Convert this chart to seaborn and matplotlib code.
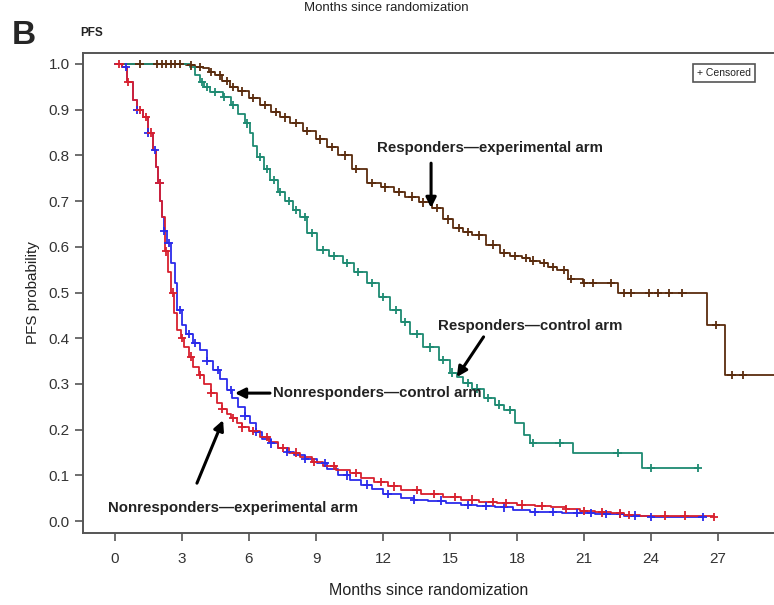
#!/usr/bin/env python
# PFS Kaplan-Meier curves, responders / nonresponders by arm (panel B)

import numpy as np
import pandas as pd
import matplotlib
matplotlib.use('Agg')
import matplotlib.pyplot as plt
import seaborn as sns

sns.set_theme(style='ticks')
plt.rcParams['font.family'] = ['Liberation Sans', 'DejaVu Sans']

# Data (months, survival probability at each step)
resp_exp_t = [0, 3.2, 3.6, 3.94, 4.2, 4.5, 4.8, 5.15, 5.5, 6.0, 6.5, 7.0, 7.4, 7.84, 8.4, 9.0,
              9.5, 10.0, 10.6, 11.29, 11.9, 12.5, 13.0, 13.6, 14.2, 14.7, 15.14, 15.6, 16.0,
              16.6, 17.24, 17.7, 18.2, 18.6, 19.03, 19.4, 19.8, 20.3, 20.96, 22.5, 26.5, 27.3,
              29.8]
resp_exp_s = [1.0, 0.997, 0.994, 0.991, 0.983, 0.975, 0.963, 0.950, 0.94, 0.925, 0.91, 0.895,
              0.883, 0.871, 0.853, 0.835, 0.818, 0.80, 0.77, 0.740, 0.73, 0.72, 0.71, 0.697,
              0.685, 0.66, 0.641, 0.632, 0.625, 0.605, 0.586, 0.58, 0.575, 0.57, 0.565, 0.556,
              0.549, 0.53, 0.521, 0.499, 0.429, 0.319, 0.319]
resp_exp_cens = [1.1, 1.9, 2.1, 2.3, 2.5, 2.7, 2.9, 3.4, 3.8, 4.3, 4.7, 5.0, 5.3, 5.7, 6.2, 6.7,
                 7.2, 7.6, 8.1, 8.6, 9.2, 9.7, 10.3, 10.8, 11.5, 12.1, 12.7, 13.3, 13.8, 14.4,
                 14.9, 15.4, 15.8, 16.3, 16.9, 17.4, 17.9, 18.4, 18.7, 19.2, 19.6, 20.1, 20.4,
                 21.0, 21.4, 22.2, 22.8, 23.1, 23.9, 24.3, 24.8, 25.4, 26.9, 27.6, 28.1]

resp_ctl_t = [0, 3.36, 3.6, 3.8, 4.0, 4.25, 4.84, 5.2, 5.5, 5.8, 6.05, 6.2, 6.36, 6.65, 6.94,
              7.3, 7.6, 7.95, 8.28, 8.6, 9.05, 9.6, 10.2, 10.7, 11.29, 11.8, 12.3, 12.8, 13.2,
              13.8, 14.5, 15.0, 15.3, 15.6, 16.0, 16.5, 17.0, 17.4, 17.9, 18.3, 18.6, 20.5,
              23.6, 26.1]
resp_ctl_s = [1.0, 0.993, 0.975, 0.96, 0.95, 0.939, 0.928, 0.91, 0.89, 0.87, 0.849, 0.82,
              0.796, 0.77, 0.746, 0.72, 0.70, 0.68, 0.665, 0.63, 0.593, 0.58, 0.565, 0.545,
              0.521, 0.49, 0.462, 0.435, 0.41, 0.38, 0.352, 0.325, 0.315, 0.302, 0.29, 0.27,
              0.255, 0.243, 0.215, 0.188, 0.171, 0.149, 0.116, 0.116]
resp_ctl_cens = [3.9, 4.1, 4.5, 4.9, 5.3, 5.9, 6.5, 6.8, 7.1, 7.4, 7.8, 8.1, 8.5, 8.8, 9.3,
                 9.8, 10.4, 10.9, 11.5, 12.0, 12.6, 13.0, 13.5, 14.1, 14.7, 15.1, 15.8, 16.2,
                 16.7, 17.2, 17.7, 18.7, 19.9, 22.5, 24.0, 26.1]

nonresp_ctl_t = [0, 0.3, 0.55, 0.8, 1.0, 1.25, 1.5, 1.7, 1.82, 1.93, 2.02, 2.1, 2.2, 2.33, 2.5,
                 2.69, 2.78, 3.0, 3.2, 3.5, 3.8, 4.1, 4.4, 4.7, 5.0, 5.25, 5.5, 5.8, 6.05, 6.3,
                 6.6, 7.0, 7.3, 7.7, 8.0, 8.5, 9.05, 9.5, 10.0, 10.5, 11.0, 11.5, 12.0, 12.8,
                 13.4, 14.0, 14.8, 15.5, 16.2, 17.0, 17.8, 18.6, 20.0, 21.5, 22.8, 24.0, 26.3]
nonresp_ctl_s = [1.0, 0.993, 0.96, 0.921, 0.90, 0.884, 0.85, 0.812, 0.775, 0.740, 0.70, 0.665,
                 0.635, 0.608, 0.565, 0.521, 0.462, 0.43, 0.41, 0.39, 0.374, 0.35, 0.33, 0.31,
                 0.287, 0.27, 0.25, 0.23, 0.214, 0.195, 0.18, 0.17, 0.16, 0.152, 0.145, 0.136,
                 0.127, 0.115, 0.10, 0.09, 0.08, 0.07, 0.06, 0.05, 0.047, 0.045, 0.04, 0.035,
                 0.033, 0.03, 0.025, 0.02, 0.018, 0.015, 0.012, 0.009, 0.009]
nonresp_ctl_cens = [0.5, 1.0, 1.5, 1.8, 2.0, 2.2, 2.4, 2.9, 3.3, 3.6, 4.1, 4.6, 5.2, 5.8, 6.3,
                    7.0, 7.7, 8.5, 9.4, 10.4, 11.3, 12.2, 13.4, 14.6, 15.8, 16.6, 17.4, 18.8,
                    19.6, 20.7, 21.3, 22.0, 22.6, 23.3, 24.0, 26.3]

nonresp_exp_t = [0, 0.3, 0.55, 0.8, 1.0, 1.25, 1.5, 1.7, 1.82, 1.93, 2.02, 2.1, 2.25, 2.38, 2.5,
                 2.65, 2.78, 2.95, 3.1, 3.3, 3.5, 3.75, 4.0, 4.3, 4.57, 4.8, 5.0, 5.2, 5.46, 5.7,
                 6.0, 6.5, 6.9, 7.3, 7.8, 8.28, 8.8, 9.3, 9.9, 10.5, 11.0, 11.6, 12.2, 12.8,
                 13.7, 14.7, 15.5, 16.3, 17.1, 18.0, 18.8, 19.5, 20.2, 20.8, 21.5, 22.2, 22.8,
                 23.5, 26.8]
nonresp_exp_s = [1.0, 0.993, 0.96, 0.921, 0.90, 0.884, 0.85, 0.812, 0.775, 0.740, 0.70, 0.665,
                 0.59, 0.545, 0.50, 0.455, 0.418, 0.40, 0.38, 0.36, 0.337, 0.32, 0.30, 0.28,
                 0.258, 0.245, 0.235, 0.225, 0.214, 0.205, 0.197, 0.184, 0.172, 0.16, 0.15,
                 0.140, 0.13, 0.12, 0.112, 0.105, 0.095, 0.085, 0.076, 0.068, 0.06, 0.053, 0.047,
                 0.042, 0.039, 0.036, 0.033, 0.03, 0.026, 0.022, 0.019, 0.017, 0.014, 0.012,
                 0.009]
nonresp_exp_cens = [0.2, 0.6, 1.1, 1.4, 1.6, 2.0, 2.3, 2.6, 3.0, 3.4, 3.8, 4.3, 4.8, 5.3, 5.7,
                    6.2, 6.8, 7.5, 8.1, 8.9, 9.8, 10.8, 11.9, 12.5, 13.5, 14.3, 15.2, 16.0,
                    16.9, 17.5, 18.2, 19.1, 20.2, 21.0, 21.8, 22.6, 23.0, 24.6, 25.5, 26.8]

groups = ['resp_exp', 'resp_ctl', 'nonresp_ctl', 'nonresp_exp']
colors = {'resp_exp': '#5a2c0e', 'resp_ctl': '#1e8a72',
          'nonresp_ctl': '#2b2bea', 'nonresp_exp': '#d8202e'}

curves = {'resp_exp': (resp_exp_t, resp_exp_s, resp_exp_cens),
          'resp_ctl': (resp_ctl_t, resp_ctl_s, resp_ctl_cens),
          'nonresp_ctl': (nonresp_ctl_t, nonresp_ctl_s, nonresp_ctl_cens),
          'nonresp_exp': (nonresp_exp_t, nonresp_exp_s, nonresp_exp_cens)}

# long tables for seaborn
steps = []
marks = []
for g in groups:
    t, s, c = curves[g]
    steps.append(pd.DataFrame({'t': t, 'S': s, 'group': g}))
    t = np.asarray(t)
    idx = np.searchsorted(t, c, side='right') - 1   # survival value at censor time
    marks.append(pd.DataFrame({'t': c, 'S': np.asarray(s)[idx], 'group': g}))
df_steps = pd.concat(steps, ignore_index=True)
df_marks = pd.concat(marks, ignore_index=True)

fig = plt.figure(figsize=(7.74, 6.05), dpi=100)
ax = fig.add_axes([83/774, (605-533)/605, 1 - 83/774, (533-53)/605])

sns.lineplot(data=df_steps, x='t', y='S', hue='group', palette=colors, hue_order=groups,
             estimator=None, sort=False, drawstyle='steps-post', linewidth=1.3,
             legend=False, ax=ax)
sns.scatterplot(data=df_marks, x='t', y='S', hue='group', palette=colors, hue_order=groups,
                marker='+', s=36, linewidth=1.3, legend=False, ax=ax, zorder=3)

ax.set_xlim(-1.43, 29.5)
ax.set_ylim(-0.026, 1.024)
ax.set_xticks(np.arange(0, 28, 3))
ax.set_yticks(np.arange(0, 1.01, 0.1))
ax.set_yticklabels(['%.1f' % v for v in np.arange(0, 1.01, 0.1)])
ax.tick_params(axis='both', direction='out', length=6, width=1.2, color='#555555',
               labelsize=11, labelcolor='#333333')
ax.tick_params(axis='x', pad=8)
ax.set_xlabel('Months since randomization', fontsize=11.5, color='#222222', labelpad=12)
ax.set_ylabel('PFS probability', fontsize=11, color='#222222', labelpad=6)
for side in ['left', 'bottom', 'top']:
    ax.spines[side].set_color('#555555')
    ax.spines[side].set_linewidth(1.4)
ax.spines['right'].set_visible(False)

# annotations with arrows
arrow = dict(arrowstyle='-|>', lw=2.2, color='black', mutation_scale=15, shrinkA=0, shrinkB=0)
tk = dict(fontsize=10.8, fontweight='bold', color='#222222')
ax.text(16.8, 0.816, 'Responders\u2014experimental arm', ha='center', va='center', **tk)
ax.annotate('', xy=(14.15, 0.685), xytext=(14.15, 0.783), arrowprops=arrow)
ax.text(18.6, 0.427, 'Responders\u2014control arm', ha='center', va='center', **tk)
ax.annotate('', xy=(15.3, 0.315), xytext=(16.5, 0.403), arrowprops=arrow)
ax.text(7.08, 0.28, 'Nonresponders\u2014control arm', ha='left', va='center', **tk)
ax.annotate('', xy=(5.37, 0.28), xytext=(6.94, 0.28), arrowprops=arrow)
ax.text(5.3, 0.028, 'Nonresponders\u2014experimental arm', ha='center', va='center', **tk)
ax.annotate('', xy=(4.84, 0.221), xytext=(3.67, 0.083), arrowprops=arrow)

# censor key box
fig.text(697/774, 1 - 73/605, '+ Censored', fontsize=7.5, ha='left', va='center',
         color='#222222',
         bbox=dict(boxstyle='square,pad=0.35', fc='white', ec='#555555', lw=1.2))

fig.text(12/774, 1 - 35/605, 'B', fontsize=24, fontweight='bold', ha='left', va='center')
fig.text(80/774, 1 - 33/605, 'PFS', fontsize=8.5, fontweight='bold', ha='left', va='center',
         color='#222222')
fig.text(386/774, 1 - 8/605, 'Months since randomization', fontsize=9.5, ha='center',
         va='center', color='#222222')

fig.savefig('out.png', dpi=100)
